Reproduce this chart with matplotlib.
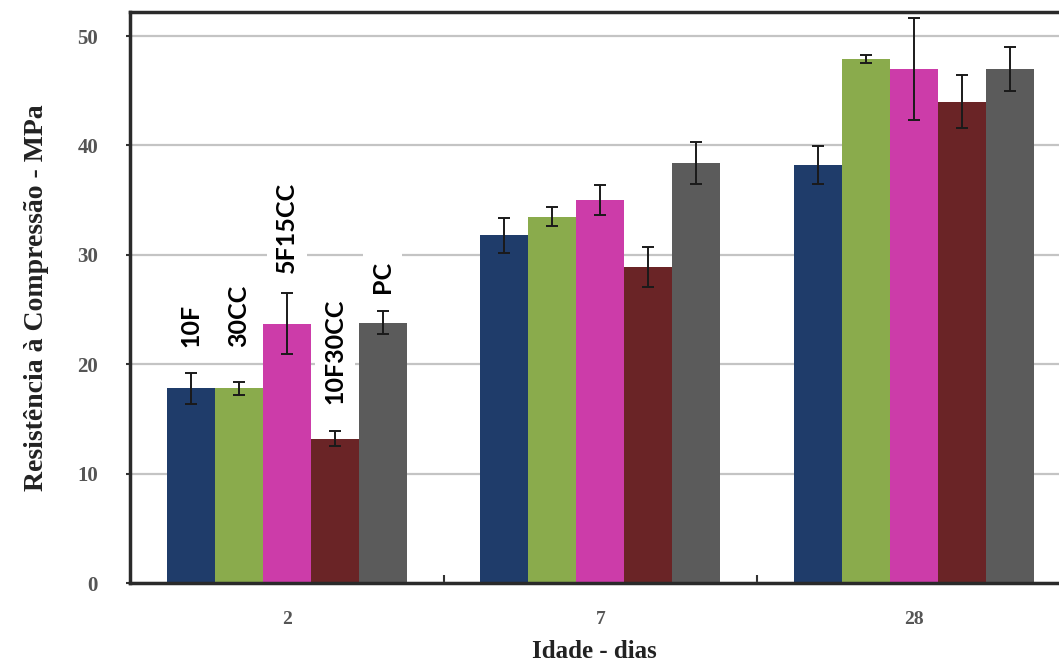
import numpy as np
import matplotlib
matplotlib.use('Agg')
import matplotlib.pyplot as plt

# data
ages = ['2', '7', '28']
mixes = ['10F', '30CC', '5F15CC', '10F30CC', 'PC']
colors = ['#1f3c6a', '#8aab4c', '#cc3ca9', '#6a2426', '#5b5b5b']

mean_10F = [17.8, 31.8, 38.2]
mean_30CC = [17.8, 33.5, 47.9]
mean_5F15CC = [23.7, 35.0, 47.0]
mean_10F30CC = [13.2, 28.9, 44.0]
mean_PC = [23.8, 38.4, 47.0]

err_10F = [1.4, 1.6, 1.75]
err_30CC = [0.6, 0.85, 0.35]
err_5F15CC = [2.8, 1.4, 4.7]
err_10F30CC = [0.7, 1.85, 2.4]
err_PC = [1.05, 1.95, 2.0]

# where the rotated mix names sit above the first group
label_y = [21.6, 21.6, 28.3, 16.4, 26.5]

means = [mean_10F, mean_30CC, mean_5F15CC, mean_10F30CC, mean_PC]
errs = [err_10F, err_30CC, err_5F15CC, err_10F30CC, err_PC]

fig = plt.figure(figsize=(10.59, 6.62), dpi=100)
ax = fig.add_axes([0.1228, 0.1193, 0.8772, 0.8625])

centers = np.arange(len(ages)) + 0.5
width = 0.153
for i in range(len(mixes)):
    x = centers + (i - 2) * width
    ax.bar(x, means[i], width, color=colors[i], zorder=2)
    ax.errorbar(x, means[i], yerr=errs[i], fmt='none', ecolor='#1a1a1a',
                elinewidth=1.4, capsize=4, capthick=1.4, zorder=3)
    ax.text(centers[0] + (i - 2) * width, label_y[i], mixes[i], rotation=90,
            ha='center', va='bottom', fontsize=18, fontweight='bold',
            family=['Lato', 'DejaVu Sans'], color='black', zorder=4,
            bbox=dict(facecolor='white', edgecolor='none', pad=6))

ax.set_xlim(0, 2.963)
ax.set_ylim(0, 52.2)
ax.set_yticks([0, 10, 20, 30, 40, 50])
ax.yaxis.grid(True, color='#c4c4c4', linewidth=1.6, zorder=0)
ax.set_axisbelow(True)

# category ticks on boundaries, labels at centres
ax.set_xticks([1, 2])
ax.set_xticklabels([])
ax.set_xticks(centers, minor=True)
ax.set_xticklabels(ages, minor=True)
ax.tick_params(axis='x', which='major', direction='in', length=6, width=1.5, color='#333333')
ax.tick_params(axis='x', which='minor', length=0, pad=20, labelsize=14, labelcolor='#555555')
ax.tick_params(axis='y', direction='out', length=3, width=1.5, color='#333333',
               pad=20, labelsize=15, labelcolor='#555555')
for lab in ax.get_xticklabels(minor=True) + ax.get_yticklabels():
    lab.set_family('Liberation Serif')
    lab.set_fontweight('bold')

for side in ['left', 'bottom', 'top']:
    ax.spines[side].set_linewidth(2.5)
    ax.spines[side].set_color('#2a2a2a')
ax.spines['right'].set_visible(False)

ax.set_ylabel('Resistência à Compressão - MPa', family='Liberation Serif',
              fontsize=20, fontweight='bold', color='#222222', labelpad=20)
ax.set_xlabel('Idade - dias', family='Liberation Serif', fontsize=18,
              fontweight='bold', color='#222222', labelpad=9)

fig.savefig('out.png', dpi=100)
